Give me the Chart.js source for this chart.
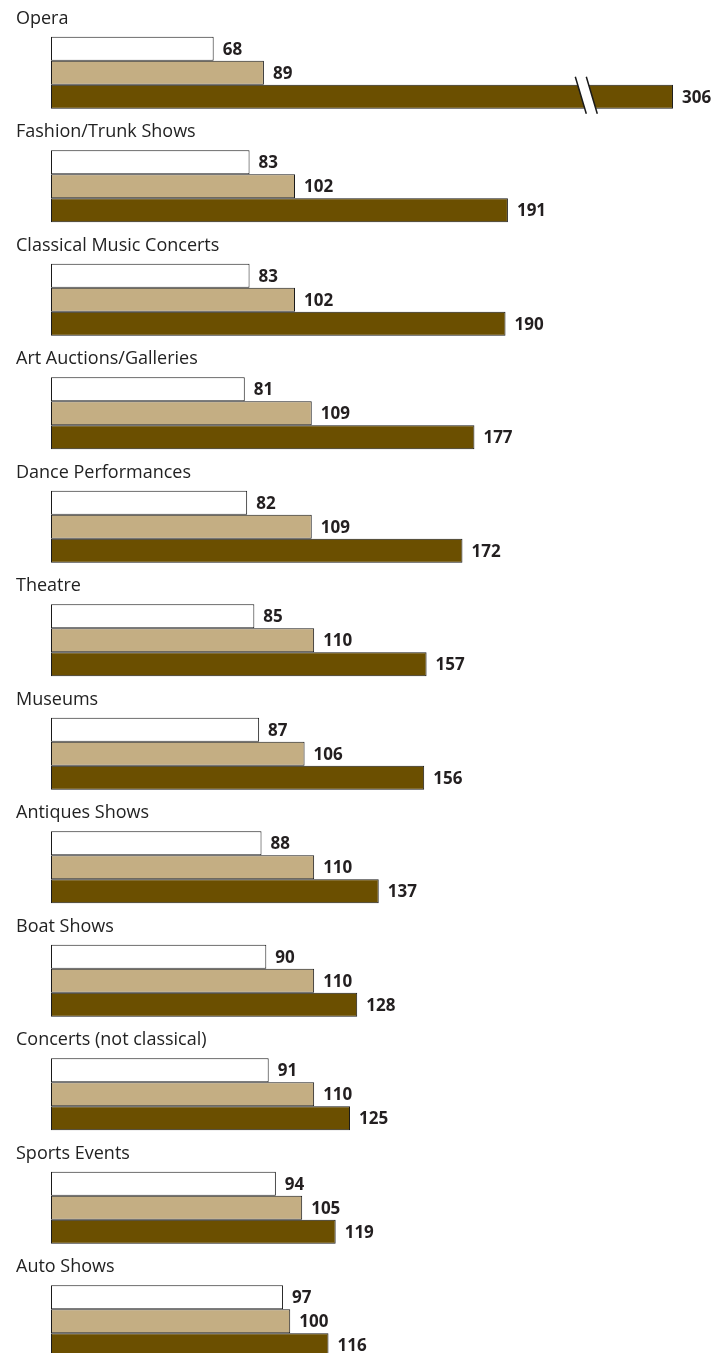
<!DOCTYPE html>
<html>
<head>
<meta charset="utf-8">
<script src="https://cdn.jsdelivr.net/npm/chart.js@4"></script>
<style>
  html, body { margin: 0; padding: 0; background: #fff; }
  #outer { width: 728px; height: 1353px; overflow: hidden; }
  #inner { width: 728px; height: 1380px; position: relative; }
</style>
</head>
<body>
<div id="outer"><div id="inner"><canvas id="chart"></canvas></div></div>
<script>
// Categorias
const categories = [
	'Opera',
	'Fashion/Trunk Shows',
	'Classical Music Concerts',
	'Art Auctions/Galleries',
	'Dance Performances',
	'Theatre',
	'Museums',
	'Antiques Shows',
	'Boat Shows',
	'Concerts (not classical)',
	'Sports Events',
	'Auto Shows',
]

// Valores de las tres series
const serieA = [68, 83, 83, 81, 82, 85, 87, 88, 90, 91, 94, 97]
const serieB = [89, 102, 102, 109, 109, 110, 106, 110, 110, 110, 105, 100]
const serieC = [306, 191, 190, 177, 172, 157, 156, 137, 128, 125, 119, 116]

// Corte del eje (la barra de Opera va partida)
const breakFrom = 220
const breakTo = 266

function shown(v) {
	return v > breakTo ? v - (breakTo - breakFrom) : v
}

const colores = ['#ffffff', '#c4ae83', '#6b4f00']
const series = [serieA, serieB, serieC]

// Etiquetas de categoria, valores y marca de corte
const etiquetas = {
	id: 'etiquetas',
	afterDatasetsDraw(chart) {
		const ctx = chart.ctx
		const xs = chart.scales.x
		ctx.save()
		// nombre de cada grupo arriba de las barras
		ctx.font = '18px "Open Sans"'
		ctx.fillStyle = '#222'
		ctx.textAlign = 'left'
		ctx.textBaseline = 'alphabetic'
		const meta0 = chart.getDatasetMeta(0)
		categories.forEach((c, j) => {
			const bar = meta0.data[j]
			ctx.fillText(c, 16, bar.y - bar.height / 2 - 13)
		})
		// valores
		ctx.font = 'bold 17px "Open Sans"'
		ctx.fillStyle = '#231f20'
		ctx.textBaseline = 'middle'
		series.forEach((s, i) => {
			const meta = chart.getDatasetMeta(i)
			s.forEach((v, j) => {
				const bar = meta.data[j]
				ctx.fillText(String(v), bar.x + 9, bar.y + 1)
			})
		})
		// marca de corte
		const metaC = chart.getDatasetMeta(2)
		serieC.forEach((v, j) => {
			if (v <= breakTo) return
			const bar = metaC.data[j]
			const top = bar.y - bar.height / 2 - 8
			const bot = bar.y + bar.height / 2 + 5
			const x0 = xs.getPixelForValue(breakFrom) - 2
			const slant = 11
			const gap = 11
			ctx.fillStyle = '#fff'
			ctx.beginPath()
			ctx.moveTo(x0, top)
			ctx.lineTo(x0 + gap, top)
			ctx.lineTo(x0 + gap + slant, bot)
			ctx.lineTo(x0 + slant, bot)
			ctx.closePath()
			ctx.fill()
			ctx.strokeStyle = '#1a1a1a'
			ctx.lineWidth = 1.5
			ctx.beginPath()
			ctx.moveTo(x0, top)
			ctx.lineTo(x0 + slant, bot)
			ctx.moveTo(x0 + gap, top)
			ctx.lineTo(x0 + gap + slant, bot)
			ctx.stroke()
		})
		ctx.restore()
	},
}

const ctx = document.getElementById('chart').getContext('2d')
const chart = new Chart(ctx, {
	type: 'bar',
	data: {
		labels: categories,
		datasets: series.map((s, i) => ({
			label: 'Serie ' + (i + 1),
			data: s.map(shown),
			backgroundColor: colores[i],
			borderColor: '#1a1a1a',
			borderWidth: 1,
			borderSkipped: false,
			barPercentage: 1,
			categoryPercentage: 72 / 113.5,
		})),
	},
	options: {
		indexAxis: 'y',
		responsive: true,
		maintainAspectRatio: false,
		animation: false,
		layout: { padding: { top: 16, bottom: 2, left: 51, right: 0 } },
		scales: {
			x: { display: false, min: 0, max: 283 },
			y: { display: false },
		},
		plugins: {
			legend: { display: false },
			tooltip: { enabled: false },
		},
	},
	plugins: [etiquetas],
})
</script>
</body>
</html>
